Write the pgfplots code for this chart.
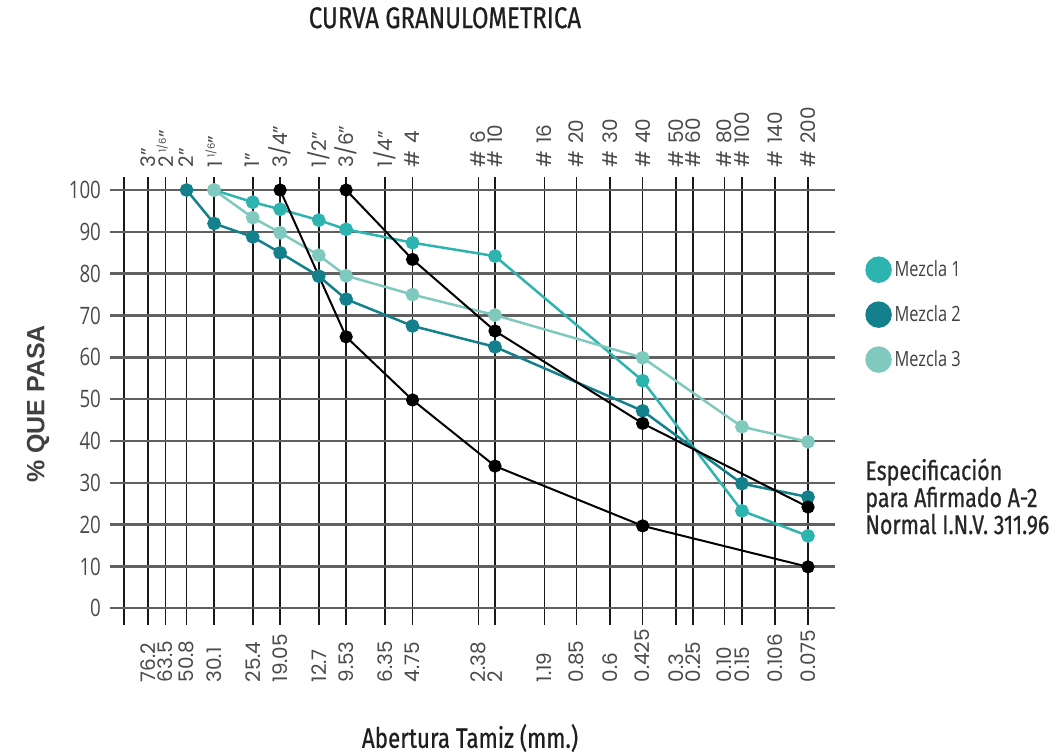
\documentclass[border=0pt]{standalone}
\usepackage{fontspec}
\usepackage{pgfplots}
\pgfplotsset{compat=1.18}
\setmainfont{Poppins}
\newfontfamily\condfont{Fira Sans}[FakeStretch=0.8, FakeBold=0.6]
\newfontfamily\specfont{Fira Sans}[FakeStretch=0.79, FakeBold=0.6]
\newfontfamily\legfont{Open Sans}[FakeStretch=0.78]
\newfontfamily\ylabfont{Liberation Sans}
\definecolor{mezA}{HTML}{2DB4AE}
\definecolor{mezB}{HTML}{14808B}
\definecolor{mezC}{HTML}{80C9BF}
\definecolor{ticktext}{HTML}{4A4A4A}

% sieve openings (mm)
\def\sieves{98,76.2,63.5,50.8,38.1,25.4,19.05,12.7,9.53,6.35,4.75,2.38,2.0,1.19,0.85,0.6,0.425,0.3,0.25,0.18,0.15,0.106,0.075}

\begin{document}
\begin{tikzpicture}
\path[use as bounding box] (0,0) rectangle (531.5pt,376.5pt);
\begin{axis}[
    at={(55pt,64pt)}, anchor=south west,
    width=362.5pt, height=223.75pt, scale only axis,
    xmode=log, x dir=reverse,
    xmin=0.0565, xmax=113.5,
    ymin=-4, ymax=103,
    clip=false,
    axis line style={draw=none},
    major tick length=0pt,
    grid=major,
    x grid style={black!90, line width=0.8pt},
    y grid style={black!62, line width=1.2pt},
    ytick={0,10,...,100},
    yticklabel style={font=\legfont\fontsize{12}{14}\selectfont, text=ticktext, xshift=-1pt},
    /pgf/number format/assume math mode=true,
    xtick/.expanded=\sieves,
    xticklabels={{},76.2,63.5,50.8,30.1,25.4,19.05,12.7,9.53,6.35,4.75,2.38,2,1.19,0.85,0.6,0.425,0.3,0.25,0.10,0.15,0.106,0.075},
    xticklabel style={rotate=90, anchor=east, text width=28.5pt, align=left, inner sep=0pt,
        font=\fontsize{10}{12}\selectfont, text=ticktext},
    extra x ticks/.expanded=\sieves,
    extra x tick labels={{},3",2\,\raisebox{0.7ex}{\fontsize{5}{6}\selectfont 1/6}",2",1\,\raisebox{0.7ex}{\fontsize{5}{6}\selectfont 1/6}",1",3/4",1/2",3/6",1/4",\# 4,\# 6,\# 10,\# 16,\# 20,\# 30,\# 40,\# 50,\# 60,\# 80,\# 100,\# 140,\# 200},
    extra x tick style={xticklabel pos=right, grid=none,
        xticklabel style={anchor=west, text width=40pt}, xticklabel shift=5pt},
    title={CURVA GRANULOMETRICA},
    title style={at={(axis description cs:0.462,1.33)}, anchor=center,
        font=\condfont\fontsize{15}{17}\selectfont, text=black!88},
    xlabel={Abertura Tamiz (mm.)},
    xlabel style={at={(axis description cs:0.4966,-0.2525)}, anchor=center,
        font=\condfont\fontsize{14}{16}\selectfont, text=black!88},
    ylabel={\% QUE PASA},
    ylabel style={at={(axis description cs:-0.0993,0.494)}, anchor=center,
        font=\ylabfont\bfseries\fontsize{12.5}{14}\selectfont, text=black!75},
    legend style={at={(axis description cs:1.043,0.825)}, anchor=north west,
        draw=none, fill=none, font=\legfont\fontsize{10.5}{12}\selectfont,
        text=black!75, row sep=9pt, inner sep=0pt},
    legend cell align=left,
    legend image code/.code={\draw[#1, mark size=6pt] plot coordinates {(0pt,0pt)};},
    every axis plot/.append style={line width=1.25pt, mark=*, mark size=2.8pt,
        mark options={draw=none}},
]
\addplot[color=mezA] coordinates {
    (38.1,100) (25.4,97.1) (19.05,95.4) (12.7,92.8) (9.53,90.6)
    (4.75,87.4) (2.0,84.2) (0.425,54.4) (0.15,23.3) (0.075,17.3)
};
\addlegendentry{Mezcla 1}
\addplot[color=mezB] coordinates {
    (50.8,100) (38.1,92.0) (25.4,88.8) (19.05,85.0) (12.7,79.4) (9.53,73.9)
    (4.75,67.5) (2.0,62.5) (0.425,47.2) (0.15,29.8) (0.075,26.6)
};
\addlegendentry{Mezcla 2}
\addplot[color=mezC] coordinates {
    (38.1,100) (25.4,93.4) (19.05,89.8) (12.7,84.4) (9.53,79.5)
    (4.75,75.0) (2.0,70.1) (0.425,59.9) (0.15,43.4) (0.075,39.8)
};
\addlegendentry{Mezcla 3}
% specification limits (A-2)
\addplot[color=black, line width=1pt, forget plot] coordinates {
    (9.53,100) (4.75,83.4) (2.0,66.3) (0.425,44.2) (0.075,24.2)
};
\addplot[color=black, line width=1pt, forget plot] coordinates {
    (19.05,100) (9.53,64.9) (4.75,49.8) (2.0,34.0) (0.425,19.7) (0.075,9.9)
};
\end{axis}
\begin{scope}[x=0.5pt, y=-0.5pt, yshift=376.5pt]
\node[anchor=north west, align=left, inner sep=0pt,
      font=\specfont\fontsize{13.5}{13.5}\selectfont, text=black!85]
  at (865,458) {Especificación\\para Afirmado A-2\\Normal I.N.V. 311.96};
\end{scope}
\end{tikzpicture}
\end{document}
